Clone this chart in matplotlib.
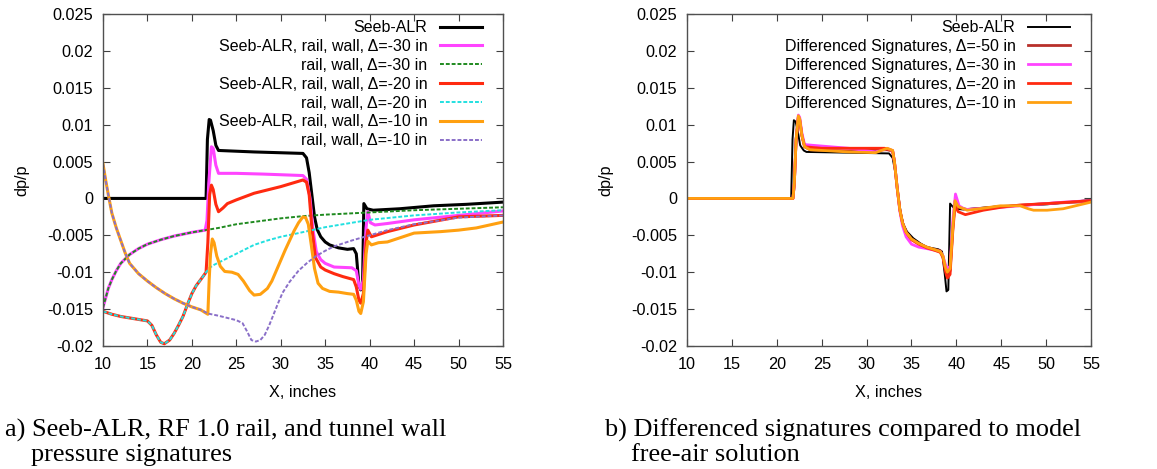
import matplotlib
matplotlib.use("Agg")
import matplotlib.pyplot as plt
from matplotlib.ticker import FuncFormatter

plt.rcParams['font.family'] = ['Liberation Sans', 'DejaVu Sans']
plt.rcParams['axes.unicode_minus'] = False

# ==========================================
# DATI - pannello a)
# ==========================================
seeb_x = [10, 21.6, 21.75, 21.95, 22.1, 22.4, 22.7, 23.0, 27, 32.5, 32.9, 33.2, 33.5, 33.8, 34.1, 34.5, 35.0, 35.5, 36.5, 37.5, 38.2, 38.5, 38.8, 39.0, 39.2, 39.35, 39.7, 40.4, 43.4, 47.2, 50.9, 55]
seeb_y = [0, 0, 0.0080, 0.0107, 0.0106, 0.0092, 0.0072, 0.0065, 0.0063, 0.0061, 0.0055, 0.0035, 0.0005, -0.0025, -0.0042, -0.0052, -0.0059, -0.0063, -0.0067, -0.0069, -0.0068, -0.0075, -0.0118, -0.0124, -0.0120, -0.0007, -0.0014, -0.0016, -0.0014, -0.0010, -0.0008, -0.0005]

s30_x = [10, 10.3, 10.6, 11, 11.5, 12, 13, 14, 15, 16.5, 18, 20, 21.5, 21.7, 21.9, 22.2, 22.4, 22.7, 23, 25, 28, 32.5, 32.9, 33.3, 33.6, 34, 34.5, 35, 36, 38, 38.5, 38.8, 39.0, 39.3, 39.6, 39.8, 40.1, 40.6, 42, 45, 50, 55]
s30_y = [-0.0148, -0.0135, -0.0122, -0.0110, -0.0098, -0.0088, -0.0076, -0.0068, -0.0062, -0.0056, -0.0051, -0.0046, -0.0043, -0.0030, 0.0020, 0.0070, 0.0068, 0.0045, 0.0034, 0.0034, 0.0033, 0.0031, 0.0026, 0.0000, -0.0040, -0.0072, -0.0083, -0.0088, -0.0093, -0.0094, -0.0098, -0.0118, -0.0123, -0.0110, -0.0040, -0.0018, -0.0033, -0.0036, -0.0034, -0.0029, -0.0023, -0.0017]

r30_x = [10, 10.3, 10.6, 11, 11.5, 12, 13, 14, 15, 16.5, 18, 20, 21.5, 23, 25, 27.5, 30, 32.5, 35, 40, 45, 50, 55]
r30_y = [-0.0148, -0.0135, -0.0122, -0.0110, -0.0098, -0.0088, -0.0076, -0.0068, -0.0062, -0.0056, -0.0051, -0.0046, -0.0043, -0.0040, -0.0035, -0.0031, -0.0027, -0.0024, -0.0022, -0.0019, -0.0016, -0.0014, -0.0012]

s20_x = [10, 11, 12, 13, 14, 15, 15.5, 16, 16.5, 16.9, 17.5, 18, 18.5, 19, 19.5, 20, 20.5, 21, 21.6, 21.8, 22.0, 22.2, 22.4, 22.7, 23.0, 23.5, 24, 25, 27, 30, 32.5, 32.9, 33.2, 33.5, 33.9, 34.5, 35, 36, 37, 38.2, 38.5, 38.8, 39.0, 39.3, 39.6, 39.8, 40.2, 42, 45, 50, 55]
s20_y = [-0.0153, -0.0157, -0.0160, -0.0162, -0.0164, -0.0166, -0.0172, -0.0185, -0.0195, -0.0197, -0.0192, -0.0183, -0.0172, -0.0160, -0.0144, -0.0129, -0.0118, -0.0110, -0.0100, -0.0060, 0.0005, 0.0018, 0.0012, -0.0008, -0.0018, -0.0013, -0.0007, -0.0002, 0.0007, 0.0016, 0.0025, 0.0022, 0.0005, -0.0040, -0.0080, -0.0093, -0.0097, -0.0102, -0.0106, -0.0110, -0.0120, -0.0138, -0.0142, -0.0129, -0.0060, -0.0043, -0.0052, -0.0045, -0.0036, -0.0025, -0.0023]

r20_x = [10, 11, 12, 13, 14, 15, 15.5, 16, 16.5, 16.9, 17.5, 18, 18.5, 19, 19.5, 20, 20.5, 21, 21.6, 22, 22.5, 23, 24, 25, 26, 27, 28.5, 30, 32, 35, 37.5, 40, 45, 50, 55]
r20_y = [-0.0153, -0.0157, -0.0160, -0.0162, -0.0164, -0.0166, -0.0172, -0.0185, -0.0195, -0.0197, -0.0192, -0.0183, -0.0172, -0.0160, -0.0144, -0.0129, -0.0118, -0.0110, -0.0100, -0.0094, -0.0090, -0.0087, -0.0081, -0.0075, -0.0069, -0.0063, -0.0057, -0.0052, -0.0047, -0.0039, -0.0034, -0.0029, -0.0023, -0.0019, -0.0016]

s10_x = [10, 10.3, 10.6, 11, 11.5, 12, 12.5, 13, 14, 15, 16, 17, 18, 19, 20, 21, 21.8, 21.95, 22.1, 22.3, 22.5, 22.8, 23.2, 23.7, 24.5, 25.2, 25.8, 26.5, 27, 27.7, 28.5, 29, 29.5, 30, 30.5, 31, 31.5, 32, 32.5, 32.8, 33.1, 33.4, 33.8, 34.2, 34.7, 35.5, 36.5, 37.5, 38.2, 38.5, 38.8, 39.0, 39.3, 39.6, 39.8, 40.2, 41, 42, 45, 48, 50, 52, 55]
s10_y = [0.0047, 0.0025, 0.0005, -0.0020, -0.0040, -0.0057, -0.0074, -0.0088, -0.0102, -0.0112, -0.0121, -0.0129, -0.0136, -0.0142, -0.0147, -0.0151, -0.0157, -0.0110, -0.0075, -0.0055, -0.0060, -0.0078, -0.0092, -0.0099, -0.0100, -0.0103, -0.0112, -0.0125, -0.0131, -0.0130, -0.0122, -0.0112, -0.0098, -0.0084, -0.0070, -0.0057, -0.0044, -0.0033, -0.0025, -0.0026, -0.0035, -0.0060, -0.0095, -0.0115, -0.0122, -0.0126, -0.0127, -0.0129, -0.0130, -0.0138, -0.0153, -0.0156, -0.0140, -0.0075, -0.0058, -0.0063, -0.0060, -0.0059, -0.0047, -0.0045, -0.0043, -0.0040, -0.0032]

r10_x = [10, 10.3, 10.6, 11, 11.5, 12, 12.5, 13, 14, 15, 16, 17, 18, 19, 20, 21, 21.8, 23, 24, 25, 25.7, 26.2, 26.7, 27.2, 27.7, 28.2, 28.7, 29.2, 29.7, 30.2, 31, 32, 33, 34, 35, 36, 37, 38, 40, 42, 45, 50, 55]
r10_y = [0.0047, 0.0025, 0.0005, -0.0020, -0.0040, -0.0057, -0.0074, -0.0088, -0.0102, -0.0112, -0.0121, -0.0129, -0.0136, -0.0142, -0.0147, -0.0151, -0.0156, -0.0159, -0.0162, -0.0165, -0.0169, -0.0180, -0.0192, -0.0194, -0.0192, -0.0185, -0.0172, -0.0157, -0.0142, -0.0128, -0.0113, -0.0098, -0.0087, -0.0078, -0.0071, -0.0065, -0.0061, -0.0057, -0.0050, -0.0043, -0.0035, -0.0026, -0.0023]

# ==========================================
# DATI - pannello b)
# ==========================================
free_x = [10, 21.6, 21.75, 21.9, 22.1, 22.35, 22.6, 23.0, 23.3, 28, 32.5, 32.9, 33.2, 33.5, 33.8, 34.1, 34.5, 35.2, 36.0, 36.7, 38.0, 38.4, 38.7, 38.9, 39.1, 39.3, 39.5, 39.8, 40.8, 44.5, 50.1, 55]
free_y = [0, 0, 0.0080, 0.0106, 0.0104, 0.0090, 0.0072, 0.0065, 0.0063, 0.0062, 0.0061, 0.0055, 0.0035, 0.0007, -0.0020, -0.0035, -0.0045, -0.0054, -0.0061, -0.0066, -0.0069, -0.0072, -0.0102, -0.0126, -0.0124, -0.0007, -0.0010, -0.0014, -0.0015, -0.0011, -0.0008, -0.0002]

d50_x = [10, 21.8, 21.95, 22.15, 22.4, 22.55, 22.8, 23.1, 23.7, 28, 32.3, 32.9, 33.1, 33.4, 33.7, 34.0, 34.4, 35.0, 35.8, 36.7, 37.5, 38.2, 38.5, 38.8, 39.0, 39.3, 39.6, 39.85, 40.2, 41.2, 45, 50, 55]
d50_y = [0, 0, 0.0020, 0.0080, 0.0111, 0.0107, 0.0085, 0.0070, 0.0066, 0.0064, 0.0066, 0.0064, 0.0050, 0.0015, -0.0015, -0.0033, -0.0046, -0.0055, -0.0061, -0.0066, -0.0069, -0.0071, -0.0078, -0.0096, -0.0103, -0.0098, -0.0040, -0.0004, -0.0012, -0.0015, -0.0011, -0.0007, -0.0004]

d30_x = [10, 21.8, 21.95, 22.15, 22.4, 22.55, 22.8, 23.1, 24, 28, 31, 32.3, 32.9, 33.1, 33.4, 33.7, 34.0, 34.4, 35.0, 35.8, 36.7, 37.5, 38.2, 38.5, 38.8, 39.0, 39.3, 39.6, 39.9, 40.3, 41, 44, 48, 52, 55]
d30_y = [0, 0, 0.0020, 0.0080, 0.0113, 0.0110, 0.0088, 0.0073, 0.0072, 0.0068, 0.0063, 0.0068, 0.0064, 0.0050, 0.0015, -0.0017, -0.0037, -0.0052, -0.0062, -0.0066, -0.0068, -0.0070, -0.0072, -0.0078, -0.0090, -0.0095, -0.0092, -0.0030, 0.0006, -0.0010, -0.0015, -0.0013, -0.0009, -0.0005, -0.0003]

d20_x = [10, 21.8, 21.95, 22.15, 22.4, 22.55, 22.8, 23.1, 25, 28, 32, 32.9, 33.1, 33.4, 33.7, 34.0, 34.4, 35.0, 35.8, 36.7, 37.5, 38.2, 38.5, 38.8, 39.0, 39.3, 39.6, 39.85, 40.2, 41, 43, 45, 47, 50, 55]
d20_y = [0, 0, 0.0020, 0.0080, 0.0110, 0.0106, 0.0085, 0.0070, 0.0068, 0.0068, 0.0068, 0.0065, 0.0050, 0.0015, -0.0015, -0.0033, -0.0046, -0.0056, -0.0062, -0.0067, -0.0070, -0.0073, -0.0080, -0.0100, -0.0108, -0.0103, -0.0045, -0.0010, -0.0018, -0.0022, -0.0016, -0.0012, -0.0009, -0.0007, -0.0003]

d10_x = [10, 21.8, 21.95, 22.15, 22.4, 22.55, 22.8, 23.1, 23.7, 28, 31, 32.3, 32.9, 33.1, 33.4, 33.7, 34.0, 34.4, 35.0, 35.8, 36.7, 37.5, 38.2, 38.5, 38.8, 39.0, 39.3, 39.6, 39.85, 40.2, 41.2, 42.6, 44.9, 47.1, 48.0, 48.6, 50.1, 51.9, 55]
d10_y = [0, 0, 0.0020, 0.0080, 0.0112, 0.0108, 0.0085, 0.0070, 0.0066, 0.0063, 0.0062, 0.0068, 0.0065, 0.0050, 0.0015, -0.0015, -0.0033, -0.0046, -0.0055, -0.0061, -0.0066, -0.0069, -0.0072, -0.0078, -0.0094, -0.0100, -0.0095, -0.0040, -0.0003, -0.0011, -0.0016, -0.0014, -0.0010, -0.0010, -0.0014, -0.0016, -0.0016, -0.0014, -0.0005]

x_ticks = [10, 15, 20, 25, 30, 35, 40, 45, 50, 55]
y_ticks = [-0.02, -0.015, -0.01, -0.005, 0, 0.005, 0.01, 0.015, 0.02, 0.025]

# ==========================================
# FIGURA
# ==========================================
fig = plt.figure(figsize=(11.57, 4.69), dpi=100)
ax1 = fig.add_axes([0.089, 0.2623, 0.3457, 0.7079])
ax2 = fig.add_axes([0.5938, 0.2623, 0.3492, 0.7079])

ax1.plot(seeb_x, seeb_y, color='black', lw=2.2, label='Seeb-ALR')
ax1.plot(s30_x, s30_y, color='#ff44ff', lw=2.2, label='Seeb-ALR, rail, wall, Δ=-30 in')
ax1.plot(r30_x, r30_y, color='#1f8a1f', lw=1.4, ls=(0, (2, 1)), label='rail, wall, Δ=-30 in')
ax1.plot(s20_x, s20_y, color='#ff2a10', lw=2.2, label='Seeb-ALR, rail, wall, Δ=-20 in')
ax1.plot(r20_x, r20_y, color='#22e0e0', lw=1.4, ls=(0, (2, 1)), label='rail, wall, Δ=-20 in')
ax1.plot(s10_x, s10_y, color='#ffa010', lw=2.2, label='Seeb-ALR, rail, wall, Δ=-10 in')
ax1.plot(r10_x, r10_y, color='#8a6fc8', lw=1.4, ls=(0, (2, 1)), label='rail, wall, Δ=-10 in')

ax2.plot(free_x, free_y, color='black', lw=1.4, label='Seeb-ALR')
ax2.plot(d50_x, d50_y, color='#b8302a', lw=2.0, label='Differenced Signatures, Δ=-50 in')
ax2.plot(d30_x, d30_y, color='#ff44ff', lw=2.0, label='Differenced Signatures, Δ=-30 in')
ax2.plot(d20_x, d20_y, color='#ff2a10', lw=2.0, label='Differenced Signatures, Δ=-20 in')
ax2.plot(d10_x, d10_y, color='#ffa010', lw=2.0, label='Differenced Signatures, Δ=-10 in')

fmt = FuncFormatter(lambda v, pos: '%g' % round(v, 4))
for ax in (ax1, ax2):
    ax.set_xlim(10, 55)
    ax.set_ylim(-0.02, 0.025)
    ax.set_xticks(x_ticks)
    ax.set_yticks(y_ticks)
    ax.yaxis.set_major_formatter(fmt)
    ax.tick_params(direction='in', length=5, width=0.8, top=True, right=True,
                   labelsize=11.7, color='#404040')
    ax.tick_params(axis='x', pad=8)
    ax.tick_params(axis='y', pad=7)
    for sp in ax.spines.values():
        sp.set_color('#505050')
        sp.set_linewidth(1.0)
    ax.set_xlabel('X, inches', fontsize=11.7, labelpad=9)
    ax.set_ylabel('dp/p', fontsize=11.7, labelpad=13)
    ax.legend(loc='upper right', frameon=False, markerfirst=False, fontsize=11.5,
              handlelength=2.6, labelspacing=0.24, borderaxespad=0.3,
              bbox_to_anchor=(0.975, 1.015))

# didascalie (Times) sotto i pannelli
cap = dict(family=['Liberation Serif', 'DejaVu Serif'], fontsize=18.9, va='baseline')
fig.text(0.004, 1 - 437 / 469, 'a) Seeb-ALR, RF 1.0 rail, and tunnel wall', **cap)
fig.text(0.027, 1 - 461 / 469, 'pressure signatures', **cap)
fig.text(0.523, 1 - 437 / 469, 'b) Differenced signatures compared to model', **cap)
fig.text(0.545, 1 - 461 / 469, 'free-air solution', **cap)

plt.savefig('out.png', dpi=100)
plt.close()
